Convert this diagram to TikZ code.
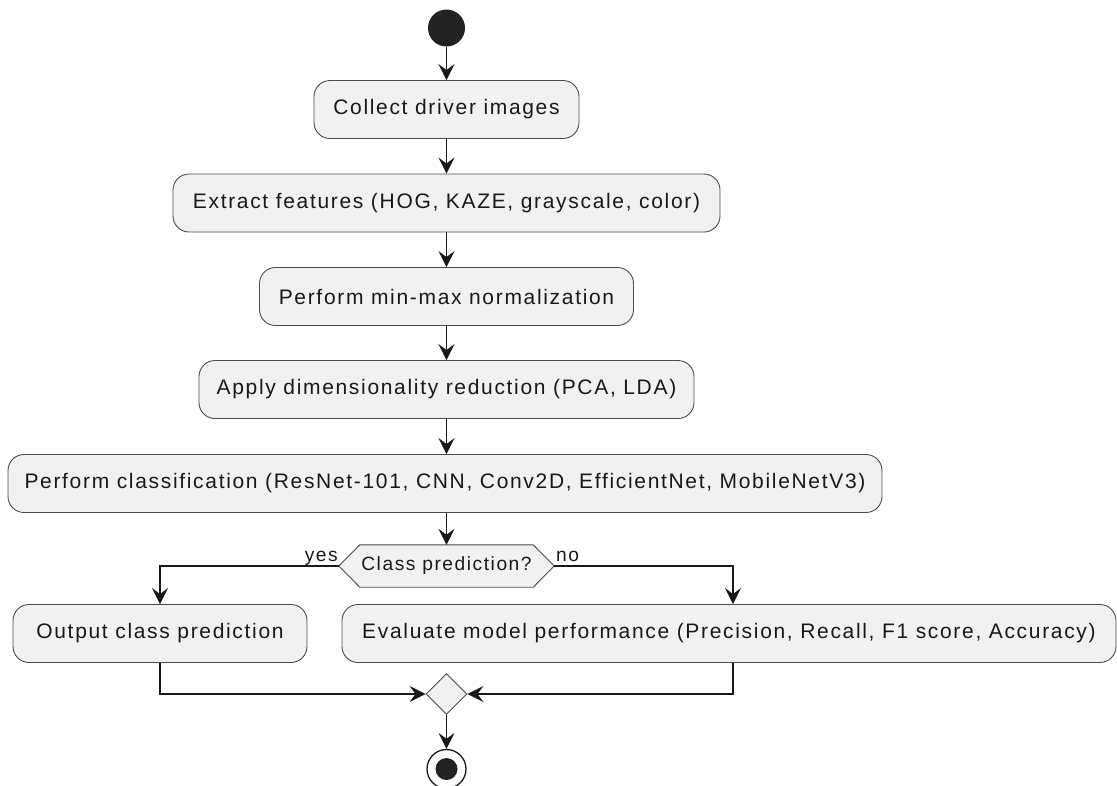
\documentclass[tikz,border=0pt]{standalone}
\usepackage{fontspec}
\setmainfont{Liberation Sans}[LetterSpace=8]
\usetikzlibrary{arrows.meta,calc,shapes.geometric,backgrounds}
\definecolor{boxfill}{HTML}{F1F1F1}
\definecolor{linec}{HTML}{181818}
\definecolor{dotc}{HTML}{222222}
\tikzset{
  act/.style={draw=black!70, fill=boxfill, rounded corners=16pt, line width=0.9pt,
    minimum height=58pt, inner sep=0pt, font=\fontsize{21}{25}\selectfont, text=black!90},
  flow/.style={draw=linec, line width=1.5pt, -{Stealth[length=16pt,width=16pt,inset=6pt]}},
  plainline/.style={draw=linec, line width=1.5pt},
  lbl/.style={font=\fontsize{19.2}{23}\selectfont, inner sep=0pt, text=black!90},
  decbox/.style={minimum width=215pt, minimum height=42pt, inner sep=0pt,
    font=\fontsize{19.2}{23}\selectfont, text=black!90},
  decshape/.style={draw=black!70, fill=boxfill, line width=0.9pt},
}
\begin{document}
\begin{tikzpicture}[x=1pt,y=-1pt]
\useasboundingbox (0,0) rectangle (1117,785);
\node[circle, fill=dotc, minimum size=37pt, inner sep=0pt] (start) at (446.5,28) {};
\node[act, minimum width=265pt] (a1) at (446.5,109.5) {Collect driver images};
\node[act, minimum width=547pt] (a2) at (446.5,203) {Extract features (HOG, KAZE, grayscale, color)};
\node[act, minimum width=374pt] (a3) at (446.5,296.5) {Perform min-max normalization};
\node[act, minimum width=495pt] (a4) at (446.5,389.5) {Apply dimensionality reduction (PCA, LDA)};
\node[act, minimum width=874pt] (a5) at (445,483.5) {Perform classification (ResNet-101, CNN, Conv2D, EfficientNet, MobileNetV3)};
\node[decbox] (dec) at (446.5,566) {Class prediction?};
\begin{scope}[on background layer]
\draw[decshape] (dec.west) -- ([xshift=21pt]dec.north west) -- ([xshift=-21pt]dec.north east)
  -- (dec.east) -- ([xshift=-21pt]dec.south east) -- ([xshift=21pt]dec.south west) -- cycle;
\end{scope}
\node[lbl, anchor=base east] (yes) at (338,561) {yes};
\node[lbl, anchor=base west] (no) at (556,561) {no};
\node[act, minimum width=294pt] (out) at (160,633.5) {Output class prediction};
\node[act, minimum width=774pt] (eval) at (729,633.5) {Evaluate model performance (Precision, Recall, F1 score, Accuracy)};
\node[diamond, draw=black!70, fill=boxfill, line width=0.9pt, minimum width=41pt, minimum height=41pt, inner sep=0pt] (merge) at (446.5,694) {};
\node[circle, draw=linec, line width=1.3pt, fill=white, minimum size=39pt, inner sep=0pt] (stop) at (446.5,769) {};
\node[circle, fill=dotc, minimum size=22pt, inner sep=0pt] (stopdot) at (stop.center) {};

\draw[flow] (start.south) -- (a1.north);
\draw[flow] (a1.south) -- (a2.north);
\draw[flow] (a2.south) -- (a3.north);
\draw[flow] (a3.south) -- (a4.north);
\draw[flow] (a4.south) -- ([xshift=1.5pt]a5.north);
\draw[flow] ([xshift=1.5pt]a5.south) -- (dec.north);
\draw[flow] (dec.west) -| (out.north);
\draw[flow] (dec.east) -| ([xshift=4pt]eval.north);
\draw[flow] (out.south) |- (merge.west);
\draw[flow] ([xshift=4pt]eval.south) |- (merge.east);
\draw[flow] (merge.south) -- (stop.north);
\end{tikzpicture}
\end{document}
